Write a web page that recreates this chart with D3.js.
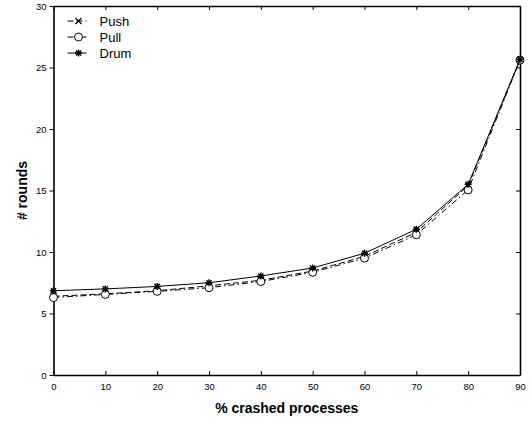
<!DOCTYPE html>
<html>
<head>
<meta charset="utf-8">
<script src="https://cdn.jsdelivr.net/npm/d3@7"></script>
<style>
  body { margin: 0; background: #fff; }
  svg text { font-family: "Liberation Sans", Arial, sans-serif; fill: #000; }
</style>
</head>
<body>
<div id="chart"></div>
<script>
const crashed = [0, 10, 20, 30, 40, 50, 60, 70, 80, 90];
const push = [6.4, 6.6, 6.85, 7.25, 7.7, 8.45, 9.65, 11.6, 15.4, 25.6];
const pull = [6.3, 6.55, 6.8, 7.1, 7.6, 8.35, 9.5, 11.4, 15.05, 25.6];
const drum = [6.85, 7.0, 7.2, 7.5, 8.05, 8.7, 9.9, 11.85, 15.5, 25.65];
const xTicks = [0, 10, 20, 30, 40, 50, 60, 70, 80, 90];
const yTicks = [0, 5, 10, 15, 20, 25, 30];

const W = 531, H = 423;
const MARGIN = { top: 6, right: 11, bottom: 48, left: 53.5 };
const innerW = W - MARGIN.left - MARGIN.right;
const innerH = H - MARGIN.top - MARGIN.bottom;

const svg = d3.select("#chart").append("svg").attr("width", W).attr("height", H);
const g = svg.append("g").attr("transform", `translate(${MARGIN.left},${MARGIN.top})`);

const x = d3.scaleLinear().domain([0, 90]).range([0, innerW]);
const y = d3.scaleLinear().domain([0, 30]).range([innerH, 0]);

// axes: bottom ticks inward, left ticks outward, mirrored top/right ticks
const gx = g.append("g").attr("transform", `translate(0,${innerH})`)
  .call(d3.axisBottom(x).tickValues(xTicks).tickSizeInner(-4).tickSizeOuter(0).tickPadding(8));
const gy = g.append("g")
  .call(d3.axisLeft(y).tickValues(yTicks).tickSizeInner(4).tickSizeOuter(0).tickPadding(3));
const gt = g.append("g")
  .call(d3.axisTop(x).tickValues(xTicks).tickSizeInner(-4).tickSizeOuter(0).tickFormat(""));
const gr = g.append("g").attr("transform", `translate(${innerW},0)`)
  .call(d3.axisRight(y).tickValues(yTicks).tickSizeInner(-4).tickSizeOuter(0).tickFormat(""));

[gx, gy, gt, gr].forEach(a => {
  a.selectAll("text").style("font-size", "9.5px");
  a.selectAll("line").attr("stroke", "#000").attr("stroke-width", 1);
  a.select(".domain").attr("stroke", "#000").attr("stroke-width", 1.6);
});

const series = [
  { name: "Push", values: push, dash: "6,3", marker: "x" },
  { name: "Pull", values: pull, dash: "6,3,1.5,3", marker: "o" },
  { name: "Drum", values: drum, dash: null, marker: "*" }
];

const line = d3.line().x(d => x(d[0])).y(d => y(d[1]));

function drawMarker(sel, type, cx, cy) {
  if (type === "o") {
    sel.append("circle").attr("cx", cx).attr("cy", cy).attr("r", 4)
      .attr("fill", "#fff").attr("stroke", "#000").attr("stroke-width", 1);
  } else if (type === "x") {
    const s = 3;
    sel.append("path")
      .attr("d", `M${cx - s},${cy - s}L${cx + s},${cy + s}M${cx - s},${cy + s}L${cx + s},${cy - s}`)
      .attr("stroke", "#000").attr("stroke-width", 1.2);
  } else {
    const s = 3.5, d = 2.6;
    sel.append("path")
      .attr("d", `M${cx - s},${cy}L${cx + s},${cy}M${cx},${cy - s}L${cx},${cy + s}` +
        `M${cx - d},${cy - d}L${cx + d},${cy + d}M${cx - d},${cy + d}L${cx + d},${cy - d}`)
      .attr("stroke", "#000").attr("stroke-width", 1.4);
  }
}

const gContent = g.append("g");
series.forEach(s => {
  const pts = crashed.map((c, i) => [c, s.values[i]]);
  gContent.append("path").datum(pts)
    .attr("d", line)
    .attr("fill", "none")
    .attr("stroke", "#000")
    .attr("stroke-width", 1)
    .attr("stroke-dasharray", s.dash);
  pts.forEach(p => drawMarker(gContent, s.marker, x(p[0]), y(p[1])));
});

// legend
const legend = g.append("g").attr("transform", "translate(14,15)");
series.forEach((s, i) => {
  const row = legend.append("g").attr("transform", `translate(0,${i * 16})`);
  row.append("line").attr("x1", 0).attr("x2", 19).attr("y1", 0).attr("y2", 0)
    .attr("stroke", "#000").attr("stroke-width", 1).attr("stroke-dasharray", s.dash);
  drawMarker(row, s.marker, 11, 0);
  row.append("text").attr("x", 32).attr("y", 4.5).style("font-size", "13px").text(s.name);
});

// axis titles
svg.append("text")
  .attr("x", MARGIN.left + innerW / 2).attr("y", 413)
  .attr("text-anchor", "middle")
  .style("font-size", "14px").style("font-weight", "bold")
  .text("% crashed processes");
svg.append("text")
  .attr("transform", `translate(27,${MARGIN.top + innerH / 2}) rotate(-90)`)
  .attr("text-anchor", "middle")
  .style("font-size", "14px").style("font-weight", "bold")
  .text("# rounds");
</script>
</body>
</html>
